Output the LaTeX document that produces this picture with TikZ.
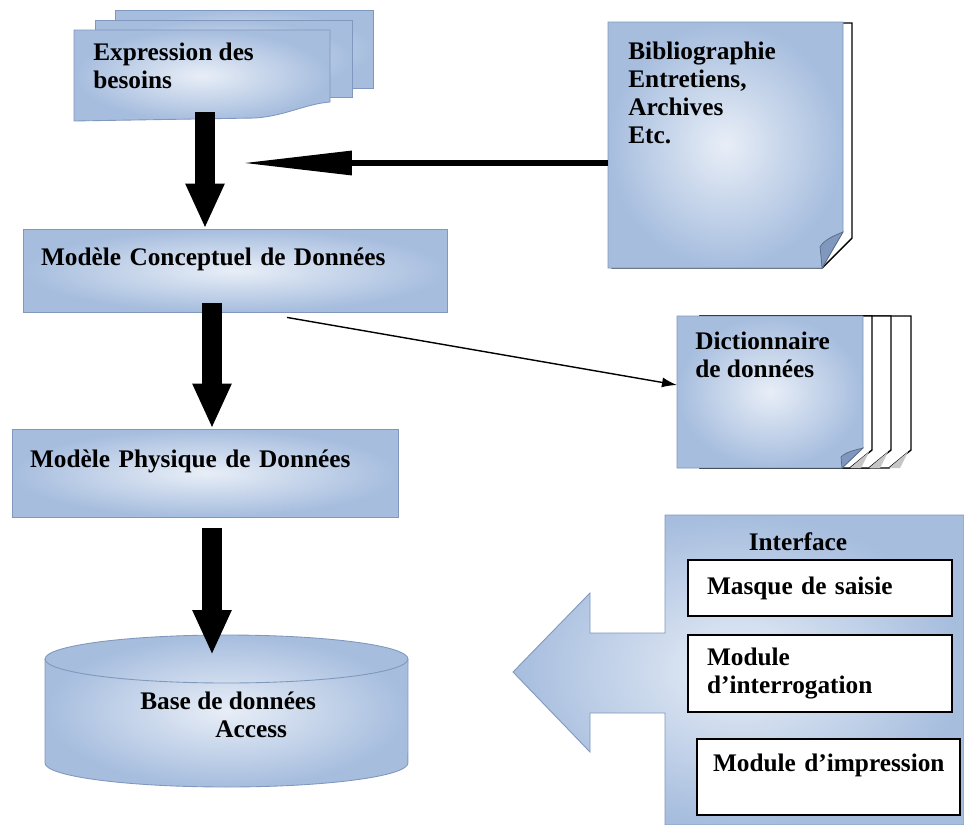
\documentclass[tikz,border=0pt]{standalone}
\usepackage{fontspec}
\setmainfont{Liberation Serif}
\usepackage{xcolor}
\usepackage{tikz}
\usetikzlibrary{arrows.meta}
\usetikzlibrary{calc}
\definecolor{docblue}{RGB}{166,189,222}
\definecolor{doclight}{RGB}{232,238,247}
\definecolor{docedge}{RGB}{128,152,190}

\begin{document}
\begin{tikzpicture}[x=0.02cm,y=-0.02cm,
    txt/.style={font=\bfseries\fontsize{14.4}{15.9}\selectfont,align=left,inner sep=0pt,anchor=north west},
    paper/.style={draw=docedge,line width=0.5pt,inner color=doclight,outer color=docblue},
    box/.style={paper,txt,anchor=center,inner xsep=0.36cm,inner ysep=0pt},
    whitebox/.style={txt,anchor=center,draw=black,line width=1pt,fill=white,inner xsep=0.38cm,inner ysep=0pt},
    sheet/.style={draw=black,line width=0.8pt,fill=white},
    flap/.style={fill=docedge,draw=docedge!70!black,line width=0.4pt},
    bigarrow/.style={line width=0.4cm,-{Triangle[width=0.72cm,length=0.9cm]}},
    longarrow/.style={line width=0.13cm,-{Triangle[width=0.46cm,length=2.2cm]}},
    thinarrow/.style={line width=0.8pt,-{Latex[length=0.3cm,width=0.2cm]}}]
            \useasboundingbox (0,0) rectangle (964,825);
            \fill[white] (0,0) rectangle (964,825);

            %%% EXPRESSION DES BESOINS %%%
            \draw[paper] (115,10) rectangle (373,88);
            \draw[paper] (95,20) rectangle (352,97);
            \draw[paper] (74,30) -- (330,30) -- (330,102) .. controls (305,104) and (285,116) .. (255,118) -- (74,121) -- cycle;
            \node[txt] (exp) at (93,43) {Expression des\\besoins};

            %%% BIBLIOGRAPHIE %%%
            \draw[sheet] (612,23) -- (852,23) -- (852,238) -- (822,268) -- (612,268) -- cycle;
            \draw[paper] (608,22) -- (843,22) -- (843,232) -- (822,268) -- (608,268) -- cycle;
            \draw[flap] (822,268) -- (843,232) .. controls (833,236) and (824,240) .. (820,247) .. controls (821,256) .. cycle;
            \node[txt] (biblio) at (628,42) {Bibliographie\\Entretiens,\\Archives\\Etc.};

            %%% MODELES %%%
            \node[box,text width=7.76cm,minimum height=1.66cm] (mcd) at (235,270.5) {Modèle Conceptuel de Données\\\mbox{}};
            \node[box,text width=7.0cm,minimum height=1.76cm] (mpd) at (205,473) {Modèle Physique de Données\\\mbox{}};

            %%% DICTIONNAIRE %%%
            \foreach \r in {911,891,872}{
                \draw[sheet] (700,316) -- (\r,316) -- (\r,450) -- ({\r-22},468) -- (700,468) -- cycle;
                \fill[gray!45] ({\r-22},468) -- ({\r-3},452) -- ({\r-11},468) -- cycle;
            }
            \draw[paper] (677,316) -- (863,316) -- (863,448) -- (842,468) -- (677,468) -- cycle;
            \draw[flap] (842,468) -- (863,448) .. controls (855,450) and (846,452) .. (841,457) .. controls (841,462) .. cycle;
            \node[txt] (dict) at (695,332) {Dictionnaire\\de données};

            %%% BASE DE DONNEES %%%
            \draw[paper] (45,659) -- (45,763) arc[start angle=180,end angle=360,x radius=3.63cm,y radius=0.48cm]
                -- (408,659) arc[start angle=0,end angle=180,x radius=3.63cm,y radius=0.48cm] -- cycle;
            \draw[docedge,line width=0.5pt] (45,659) arc[start angle=180,end angle=360,x radius=3.63cm,y radius=0.48cm];
            \node[txt] (bd) at (140,692) {Base de données\\\hspace*{1.5cm}Access};

            %%% INTERFACE %%%
            \draw[paper] (513,672) -- (590,593) -- (590,633) -- (665,633) -- (665,515) -- (964,515) -- (964,825)
                -- (665,825) -- (665,713) -- (590,713) -- (590,752) -- cycle;
            \node[txt,anchor=north] (iface) at (798,532) {Interface};
            \node[whitebox,text width=4.52cm,minimum height=1.12cm] (masque) at (820,588) {Masque de saisie};
            \node[whitebox,text width=4.52cm,minimum height=1.54cm] (interro) at (820,673.5) {Module\\d’interrogation};
            \node[whitebox,inner xsep=0.32cm,text width=4.62cm,minimum height=1.52cm] (impr) at (828.5,777) {\mbox{Module d’impression}\\\mbox{}};

            %%% COORDINATES %%%
            \coordinate (a1) at (205,112);
            \coordinate (a2) at (212,303);
            \coordinate (a3) at (212,528);
            \coordinate (bdtop) at (212,655);
            \coordinate (bibout) at (608,163);
            \coordinate (bibtip) at (242,163);
            \coordinate (dictin) at (677,385);

            %%% ARROWS %%%
            \draw[bigarrow] (a1) -- (a1 |- mcd.north);
            \draw[bigarrow] (a2) -- (a2 |- mpd.north);
            \draw[bigarrow] (a3) -- (bdtop);
            \draw[longarrow] (bibout) -- (bibtip);
            \draw[thinarrow] ([shift={(52,5)}]mcd.south) -- (dictin);
        \end{tikzpicture}
\end{document}
